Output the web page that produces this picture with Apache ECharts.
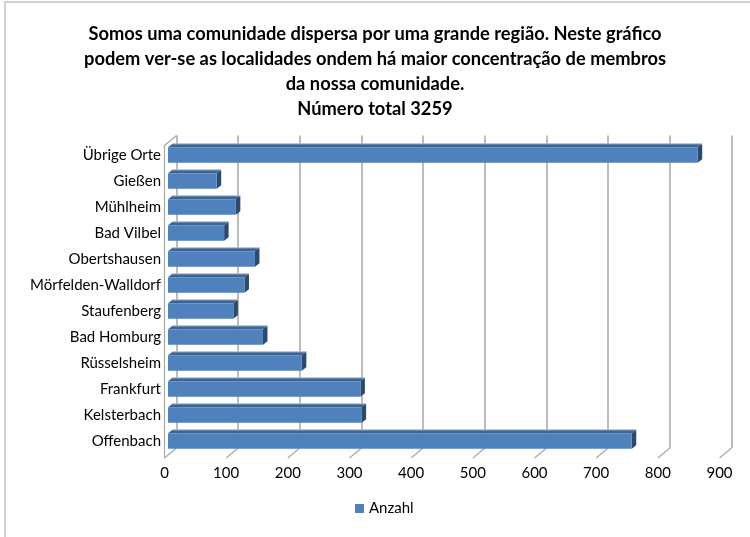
<!DOCTYPE html>
<html><head><meta charset="utf-8">
<script src="https://cdn.jsdelivr.net/npm/echarts/dist/echarts.min.js"></script>
<style>html,body{margin:0;padding:0;background:#fff}#c{width:750px;height:537px}</style>
</head><body><div id="c"></div>
<script>
// ---- data ----
const categories = ['Offenbach','Kelsterbach','Frankfurt','Rüsselsheim','Bad Homburg','Staufenberg','Mörfelden-Walldorf','Obertshausen','Bad Vilbel','Mühlheim','Gießen','Übrige Orte'];
const anzahl = [752,314,312,217,154,106,124,141,91,110,79,859];
const tickValues = [0,100,200,300,400,500,600,700,800,900];
const titleLines = ['Somos uma comunidade dispersa por uma grande região. Neste gráfico','podem ver-se as localidades ondem há maior concentração de membros','da nossa comunidade.','Número total 3259'];
const seriesName = 'Anzahl';

// ---- styles ----
const FONT = 'Lato';
const GRID_COLOR = '#a6a6a6';
const DDX = -12, DDY = 10;      // back wall -> front plane offset
const BDX = 4.5, BDY = 3.5;     // bar depth
const W = 555;

const chart = echarts.init(document.getElementById('c'), null, {renderer:'canvas'});
chart.setOption({
  animation:false,
  backgroundColor:'#fff',
  title:{
    text: titleLines.join('\n'), left:'center', top:17,
    textStyle:{fontFamily:FONT, fontWeight:'bold', fontSize:18.3, lineHeight:24.8, color:'#000'}
  },
  legend:{
    data:[{name:seriesName, icon:'rect'}], left:355, top:501, padding:0, itemWidth:9, itemHeight:9,
    textStyle:{fontFamily:FONT, fontSize:15, color:'#000'}
  },
  graphic:[{type:'rect', shape:{x:5,y:2,width:800,height:600}, style:{fill:'none', stroke:'#c4c4c4', lineWidth:1.5}, silent:true, z:-10}],
  grid:[
    {left:168, top:142, width:W, height:312},
    {left:176.5, top:135.5, width:W, height:312.5},
    {left:176.5+DDX, top:135.5+DDY, width:W, height:312.5}
  ],
  xAxis:[
    {gridIndex:0, type:'value', min:0, max:900, interval:100, show:false},
    {gridIndex:1, type:'value', min:0, max:900, interval:100,
      axisLine:{show:false}, axisTick:{show:false}, axisLabel:{show:false},
      splitLine:{show:true, lineStyle:{color:GRID_COLOR, width:1.5}}},
    {gridIndex:2, type:'value', min:0, max:900, interval:100,
      axisLine:{show:false}, axisTick:{show:false}, splitLine:{show:false},
      axisLabel:{show:true, margin:8, fontFamily:FONT, fontSize:15, color:'#000'}}
  ],
  yAxis:[
    {gridIndex:0, type:'category', data:categories, axisLine:{show:false}, axisTick:{show:false},
      axisLabel:{margin:7, fontFamily:FONT, fontSize:15, color:'#000'}},
    {gridIndex:1, type:'value', min:0, max:1, show:false},
    {gridIndex:2, type:'value', min:0, max:1, axisLine:{show:true, lineStyle:{color:GRID_COLOR, width:1.2}},
      axisTick:{show:false}, axisLabel:{show:false}, splitLine:{show:false}}
  ],
  series:[
    {
      type:'custom', name:'walls', xAxisIndex:1, yAxisIndex:1, silent:true, z:1,
      data: tickValues.map(v=>[v]),
      renderItem(params, api){
        const v = api.value(0);
        const p = api.coord([v,0]);
        const children = [{type:'line', shape:{x1:p[0],y1:p[1],x2:p[0]+DDX,y2:p[1]+DDY}, style:{stroke:GRID_COLOR, lineWidth:1.2}}];
        if (v === 0) {
          const q = api.coord([0,1]);
          children.push({type:'line', shape:{x1:q[0],y1:q[1],x2:q[0]+DDX,y2:q[1]+DDY}, style:{stroke:GRID_COLOR, lineWidth:1.2}});
        }
        return {type:'group', children};
      }
    },
    {
      type:'custom', name:seriesName, xAxisIndex:0, yAxisIndex:0, z:5,
      itemStyle:{color:'#4f81bd'},
      data: anzahl.map((v,i)=>[v,i]),
      encode:{x:0, y:1},
      renderItem(params, api){
        const v = api.value(0), i = api.value(1);
        const p0 = api.coord([0,i]), p1 = api.coord([v,i]);
        const h = api.size([0,1])[1]*0.59;
        const x0 = p0[0], x1 = p1[0], yT = p1[1]-h/2, yB = p1[1]+h/2;
        return {type:'group', children:[
          {type:'polygon', shape:{points:[[x0,yT],[x1,yT],[x1+BDX,yT-BDY],[x0+BDX,yT-BDY]]}, style:{fill:'#3d6494'}},
          {type:'polygon', shape:{points:[[x1,yT],[x1+BDX,yT-BDY],[x1+BDX,yB-BDY],[x1,yB]]}, style:{fill:'#2b4a72'}},
          {type:'rect', shape:{x:x0,y:yT,width:x1-x0,height:h}, style:{fill:'#4f81bd'}},
          {type:'line', shape:{x1:x0+BDX,y1:yT-BDY,x2:x1+BDX,y2:yT-BDY}, style:{stroke:'#b3c1d6', lineWidth:1}}
        ]};
      }
    }
  ]
});
</script></body></html>
